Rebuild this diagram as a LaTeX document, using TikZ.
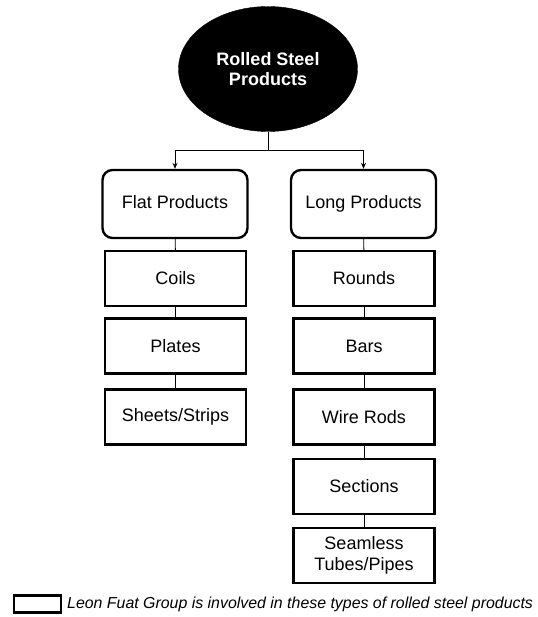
\documentclass[tikz,border=0pt]{standalone}
\usepackage{fontspec}
\setmainfont{Liberation Sans}
\usetikzlibrary{shapes.geometric,arrows.meta}
\begin{document}
\begin{tikzpicture}[x=1pt,y=-1pt,
  rootnode/.style={ellipse, fill=black, draw=black, text=white, minimum width=179pt, minimum height=125pt, inner sep=0pt, align=center, font=\fontsize{18}{20.5}\selectfont\bfseries},
  catbox/.style={draw=black, line width=2.4pt, rounded corners=10pt, minimum width=145pt, minimum height=68pt, inner sep=0pt, text height=13pt, text depth=4pt, font=\fontsize{18}{21}\selectfont},
  itembox/.style={draw=black, line width=2.4pt, minimum width=141pt, minimum height=55pt, inner sep=0pt, align=center, font=\fontsize{18}{21}\selectfont},
  link/.style={draw=black, line width=0.9pt},
  arr/.style={link, -{Stealth[length=6pt,width=5pt]}}
]
\useasboundingbox (0,0) rectangle (537,617);
\node[rootnode] (root) at (268,69) {Rolled Steel\\Products};
\node[catbox] (flat) at (175,204) {Flat Products};
\node[catbox] (long) at (363.5,204) {Long Products};
\node[itembox] (coils) at (175.5,278.5) {Coils};
\node[itembox] (plates) at (175.5,346) {Plates};
\node[itembox] (sheets) at (175.5,417) {Sheets/Strips};
\node[itembox] (rounds) at (364,278.5) {Rounds};
\node[itembox] (bars) at (364,346) {Bars};
\node[itembox] (wire) at (364,417) {Wire Rods};
\node[itembox] (sections) at (364,486.5) {Sections};
\node[itembox] (seamless) at (364,555.5) {Seamless\\Tubes/Pipes};
\coordinate (split) at (268,150);
\draw[link] (root.south) -- (split);
\draw[arr] (split) -| (flat.north);
\draw[arr] (split) -| (long.north);
\draw[link] (flat) -- (coils);
\draw[link] (coils) -- (plates);
\draw[link] (plates) -- (sheets);
\draw[link] (long) -- (rounds);
\draw[link] (rounds) -- (bars);
\draw[link] (bars) -- (wire);
\draw[link] (wire) -- (sections);
\draw[link] (sections) -- (seamless);
\node[draw=black, line width=2.2pt, minimum width=47pt, minimum height=17pt, inner sep=0pt] (legbox) at (37.5,604) {};
\node[anchor=west, inner sep=0pt, font=\fontsize{15.9}{18}\selectfont\itshape] (legtext) at (67,604) {Leon Fuat Group is involved in these types of rolled steel products};
\end{tikzpicture}
\end{document}
